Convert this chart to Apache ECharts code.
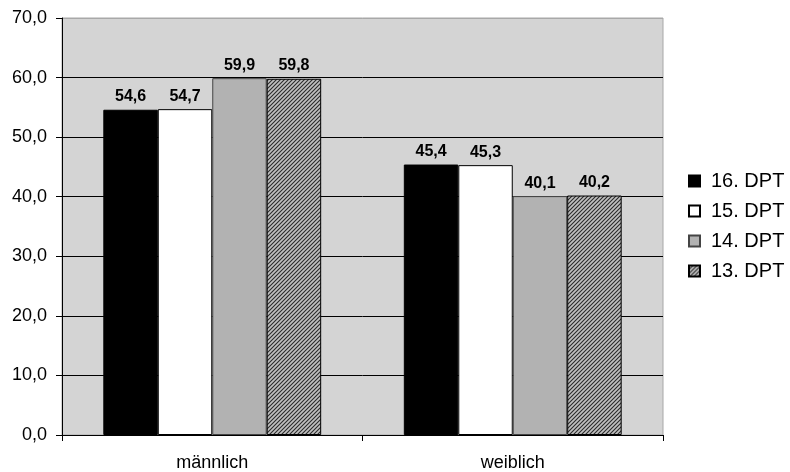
<!DOCTYPE html>
<html><head><meta charset="utf-8">
<script src="https://cdn.jsdelivr.net/npm/echarts@6/dist/echarts.min.js"></script>
<style>html,body{margin:0;padding:0;background:#fff}#c{width:790px;height:472px}</style>
</head><body><div id="c"></div>
<script>
const categories = ['männlich', 'weiblich'];
const seriesNames = ['16. DPT', '15. DPT', '14. DPT', '13. DPT'];
const dpt16 = [54.6, 45.4];
const dpt15 = [54.7, 45.3];
const dpt14 = [59.9, 40.1];
const dpt13 = [59.8, 40.2];
const yTicks = [0, 10, 20, 30, 40, 50, 60, 70];

function hatch() {
  const c = document.createElement('canvas');
  c.width = 4; c.height = 4;
  const g = c.getContext('2d');
  g.fillStyle = '#c0c0c0';
  g.fillRect(0, 0, 4, 4);
  g.strokeStyle = '#2a2a2a';
  g.lineWidth = 1.1;
  g.beginPath();
  g.moveTo(-1, 5); g.lineTo(5, -1);
  g.moveTo(-1, 1); g.lineTo(1, -1);
  g.moveTo(3, 5); g.lineTo(5, 3);
  g.stroke();
  return c;
}
const hatchPattern = { image: hatch(), repeat: 'repeat' };

const fills = ['#000000', '#ffffff', '#b2b2b2', hatchPattern];
const borders = ['#000', '#000', '#444', '#000'];
const dataSets = [dpt16, dpt15, dpt14, dpt13];
const fmt = v => v.toFixed(1).replace('.', ',');
const font = 'Liberation Sans, Arial, sans-serif';

const chart = echarts.init(document.getElementById('c'), null, { renderer: 'canvas' });
chart.setOption({
  animation: false,
  textStyle: { fontFamily: font },
  grid: { left: 62, right: 127, top: 18, bottom: 36, backgroundColor: '#d4d4d4', show: true, borderWidth: 1, borderColor: '#a8a8a8' },
  legend: {
    orient: 'vertical', left: 683, top: 166, itemWidth: 11, itemHeight: 11, itemGap: 10,
    textStyle: { fontSize: 20, color: '#000', fontFamily: font, padding: [0, 0, 0, 6] },
    icon: 'rect',
    data: seriesNames
  },
  xAxis: {
    type: 'category', data: categories,
    axisLine: { lineStyle: { color: '#000', width: 1 } },
    axisTick: { show: true, length: 6, lineStyle: { color: '#000' } },
    axisLabel: { fontSize: 18, color: '#000', margin: 19 },
    splitLine: { show: false }
  },
  yAxis: {
    type: 'value', min: yTicks[0], max: yTicks[yTicks.length - 1], interval: 10,
    axisLine: { show: true, lineStyle: { color: '#000', width: 1 } },
    axisTick: { show: true, length: 6, lineStyle: { color: '#000' } },
    axisLabel: { fontSize: 18, color: '#000', margin: 15, formatter: v => fmt(v) },
    splitLine: { show: true, lineStyle: { color: ['#000', '#000', '#000', '#000', '#000', '#000', '#000', '#a8a8a8'], width: 1 } }
  },
  series: dataSets.map((d, i) => ({
    name: seriesNames[i], type: 'bar', data: d,
    barGap: '0%', barCategoryGap: '27.5%',
    itemStyle: { color: fills[i], borderColor: borders[i], borderWidth: 1 },
    label: { show: true, position: 'top', distance: 5, fontSize: 16, fontWeight: 'bold', color: '#000', formatter: p => fmt(p.value) }
  }))
});
</script></body></html>
